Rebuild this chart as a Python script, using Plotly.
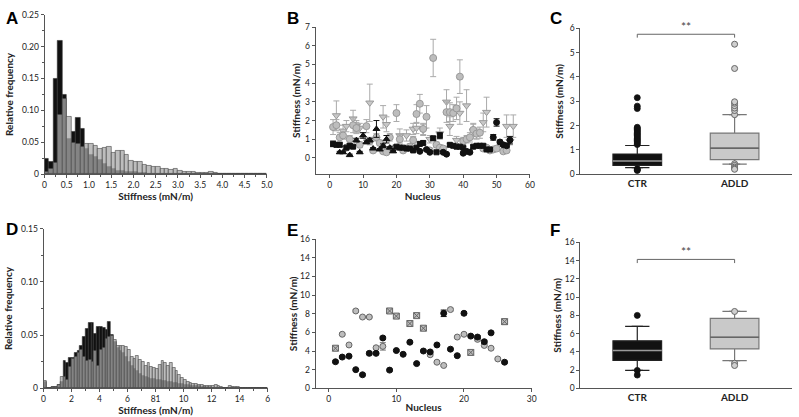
import numpy as np
import plotly.graph_objects as go

W, H = 799, 417

# ---------------- Panel A : histogram (bin width 0.1 mN/m) ----------------
a_bin_width = 0.1
a_ctr = [0.024, 0.020, 0.150, 0.210, 0.124, 0.055, 0.067, 0.089, 0.071, 0.040,
         0.031, 0.027, 0.023, 0.016, 0.011, 0.008, 0.006, 0.005, 0.004, 0.003,
         0.003, 0.002, 0.002, 0.001, 0.001, 0.001, 0.001, 0.001, 0.001, 0.001,
         0.0005, 0.0005, 0, 0, 0, 0, 0, 0, 0, 0,
         0, 0, 0, 0, 0, 0, 0, 0, 0, 0]
a_adld = [0.003, 0.008, 0.018, 0.093, 0.118, 0.090, 0.049, 0.047, 0.043, 0.048,
          0.047, 0.044, 0.040, 0.042, 0.043, 0.033, 0.036, 0.037, 0.030, 0.021,
          0.019, 0.019, 0.015, 0.013, 0.011, 0.011, 0.009, 0.008, 0.007, 0.009,
          0.005, 0.004, 0.003, 0.003, 0.002, 0.002, 0.002, 0.004, 0.002, 0.001,
          0.001, 0.001, 0.0005, 0.001, 0.001, 0.0005, 0.001, 0.001, 0.0005, 0.001]
a_xticks = [0, 0.5, 1.0, 1.5, 2.0, 2.5, 3.0, 3.5, 4.0, 4.5, 5.0]
a_xticktext = ["0", "0.5", "1.0", "1.5", "2.0", "2.5", "3.0", "3.5", "4.0", "4.5", "5.0"]
a_yticks = [0, 0.05, 0.10, 0.15, 0.20, 0.25]
a_yticktext = ["0", "0.05", "0.10", "0.15", "0.20", "0.25"]

# ---------------- Panel D : histogram (bin width 0.2 mN/m) ----------------
d_bin_width = 0.2
d_ctr = [0.006, 0, 0, 0.001, 0.001, 0.003, 0.006, 0.026, 0.024, 0.029,
         0.029, 0.033, 0.035, 0.040, 0.048, 0.056, 0.062, 0.062, 0.051, 0.058,
         0.058, 0.057, 0.055, 0.063, 0.050, 0.044, 0.038, 0.035, 0.033, 0.030,
         0.025, 0.021, 0.018, 0.016, 0.014, 0.012, 0.011, 0.010, 0.009, 0.009,
         0.008, 0.008, 0.007, 0.007, 0.006, 0.006, 0.005, 0.005, 0.004, 0.004,
         0.003, 0.003, 0.002, 0.002, 0.002, 0.002, 0.001, 0.001, 0.001, 0.001,
         0.0005, 0.0005, 0.0005, 0.0005, 0, 0, 0, 0, 0, 0,
         0, 0, 0, 0, 0, 0, 0, 0, 0, 0]
d_adld = [0.007, 0, 0, 0.001, 0.001, 0.003, 0.011, 0.011, 0.008, 0.020,
          0.028, 0.030, 0.033, 0.036, 0.030, 0.026, 0.027, 0.025, 0.035, 0.021,
          0.036, 0.038, 0.047, 0.048, 0.049, 0.046, 0.040, 0.040, 0.040, 0.039,
          0.036, 0.030, 0.028, 0.031, 0.027, 0.025, 0.021, 0.024, 0.020, 0.019,
          0.018, 0.022, 0.026, 0.024, 0.021, 0.024, 0.019, 0.016, 0.013, 0.010,
          0.008, 0.006, 0.005, 0.004, 0.004, 0.003, 0.003, 0.002, 0.002, 0.002,
          0.002, 0.003, 0.002, 0.001, 0.0005, 0.0005, 0.002, 0.0015, 0.001, 0.001,
          0.0005, 0.0005, 0.0005, 0.0005, 0.0005, 0.0005, 0.0005, 0.0005, 0.0005, 0.0005]
d_xticks = [0, 2, 4, 6, 8, 10, 12, 14, 16]
d_xticktext = ["0", "2", "4", "6", "81", "10", "12", "14", "6"]
d_yticks = [0, 0.05, 0.10, 0.15]
d_yticktext = ["0", "0.05", "0.10", "0.15"]

# ---------------- Panel B : per-nucleus stiffness (mean ± sd) ----------------
b_adld_circ_x = [1, 2, 3, 4, 5, 6, 7, 8, 9, 11, 12, 13, 14, 15, 16, 17, 18, 19, 20,
                 21, 22, 24, 25, 26, 27, 28, 29, 30, 31, 32, 33, 34, 35, 36, 37, 38,
                 39, 40, 41, 42, 43, 44, 45, 46, 47, 48, 49, 50, 52, 53]
b_adld_circ_y = [1.65, 1.75, 1.1, 1.2, 0.55, 1.0, 1.75, 1.6, 0.7, 1.7, 0.9, 0.4, 1.1,
                 0.8, 0.35, 0.3, 1.1, 0.5, 2.4, 1.0, 0.4, 0.6, 0.95, 2.35, 2.9, 1.55,
                 2.2, 0.4, 5.35, 0.7, 0.55, 0.5, 2.45, 2.45, 2.4, 2.65, 4.35, 0.9,
                 1.0, 1.1, 1.5, 1.3, 1.35, 0.5, 0.55, 0.4, 0.45, 0.5, 0.35, 0.4]
b_adld_circ_err = [0.4, 0.3, 0.25, 0.2, 0.1, 0.2, 0.4, 0.3, 0.15, 0.35, 0.2, 0.1, 0.2,
                   0.15, 0.1, 0.1, 0.2, 0.1, 0.45, 0.25, 0.1, 0.15, 0.2, 0.5, 0.5, 0.3,
                   0.6, 0.1, 1.0, 0.15, 0.15, 0.1, 0.55, 0.5, 0.45, 0.6, 0.9, 0.2,
                   0.2, 0.25, 0.3, 0.3, 0.3, 0.1, 0.1, 0.1, 0.1, 0.1, 0.05, 0.1]
b_adld_tri_x = [2, 4, 5, 7, 8, 9, 12, 16, 17, 21, 23, 25, 26, 28, 30, 33, 35, 36, 38,
                39, 41, 43, 46, 47, 53, 54, 55]
b_adld_tri_y = [2.27, 1.45, 1.7, 2.1, 1.7, 1.6, 2.95, 2.2, 1.8, 1.2, 1.2, 1.55, 1.6,
                1.5, 1.0, 1.3, 3.0, 1.7, 0.95, 2.4, 2.8, 1.45, 1.9, 2.45, 1.7, 0.9, 1.7]
b_adld_tri_err = [0.78, 0.3, 0.3, 0.45, 0.3, 0.25, 1.0, 0.6, 0.4, 0.35, 0.3, 0.3, 0.3,
                  0.3, 0.2, 0.3, 0.65, 0.5, 0.2, 0.6, 0.85, 0.4, 0.5, 0.8, 0.6, 0.2, 0.6]
b_ctr_tri_x = [3, 4, 6, 8, 9, 10, 11, 12, 13, 14, 15, 16, 17, 18, 19]
b_ctr_tri_y = [0.3, 0.3, 0.15, 0.95, 0.3, 1.2, 0.85, 0.95, 0.5, 1.55, 0.45, 0.65, 1.0, 0.55, 0.35]
b_ctr_tri_err = [0.05, 0.05, 0.05, 0.1, 0.05, 0.15, 0.1, 0.1, 0.05, 0.45, 0.05, 0.1, 0.2, 0.05, 0.05]
b_ctr_sq_x = [1, 2, 3, 5, 6, 7, 20, 21, 22, 23, 24, 25, 26, 27, 28, 31, 32, 33, 36, 37,
              38, 39, 40, 43, 44, 45, 46, 47, 48]
b_ctr_sq_y = [0.75, 0.7, 0.7, 0.55, 0.65, 0.6, 0.6, 0.55, 0.55, 0.5, 0.5, 0.4, 0.55,
              0.75, 0.8, 1.05, 0.3, 1.2, 0.7, 0.65, 0.6, 0.6, 0.55, 0.6, 0.65, 0.65,
              0.65, 0.45, 0.45]
b_ctr_sq_err = [0.15, 0.1, 0.1, 0.08, 0.1, 0.08, 0.08, 0.08, 0.06, 0.06, 0.06, 0.06,
                0.08, 0.1, 0.1, 0.1, 0.05, 0.15, 0.08, 0.08, 0.06, 0.06, 0.06, 0.08,
                0.08, 0.08, 0.08, 0.05, 0.05]
b_ctr_circ_x = [27, 29, 30, 34, 35, 40, 41, 42, 49, 50, 51, 52, 53, 54]
b_ctr_circ_y = [0.35, 0.45, 0.3, 0.3, 0.2, 0.25, 0.35, 0.3, 1.1, 1.9, 0.85, 0.7, 0.65, 0.95]
b_ctr_circ_err = [0.05, 0.05, 0.05, 0.05, 0.05, 0.05, 0.05, 0.05, 0.15, 0.2, 0.1, 0.08, 0.08, 0.2]

# ---------------- Panel E : per-nucleus stiffness ----------------
e_ctr_x = [1, 2, 3, 4, 5, 6, 7, 8, 9, 10, 11, 12, 13, 14, 15, 16, 17, 18, 19, 20, 21, 22, 23, 24, 26]
e_ctr_y = [2.85, 3.35, 3.45, 2.0, 1.45, 3.75, 3.75, 5.4, 1.95, 4.05, 3.65, 4.95, 2.65,
           4.0, 3.9, 4.65, 8.05, 4.2, 3.5, 8.05, 5.6, 5.5, 5.0, 5.95, 2.8]
e_ctr_err = [0.1, 0.1, 0.1, 0.1, 0.1, 0.15, 0.1, 0.15, 0.1, 0.1, 0.1, 0.1, 0.1, 0.1,
             0.1, 0.1, 0.35, 0.1, 0.1, 0.15, 0.1, 0.15, 0.15, 0.15, 0.1]
e_adld_circ_x = [2, 3, 4, 5, 6, 7, 8, 15, 16, 17, 18, 19, 20, 22, 23, 24, 25]
e_adld_circ_y = [5.8, 4.65, 8.3, 7.65, 7.65, 4.35, 4.5, 3.6, 2.8, 2.45, 8.45, 5.5, 5.8,
                 5.25, 4.6, 4.3, 3.15]
e_adld_circ_err = [0.1, 0.15, 0.15, 0.1, 0.1, 0.15, 0.4, 0.15, 0.1, 0.1, 0.15, 0.1, 0.1,
                   0.15, 0.15, 0.15, 0.1]
e_adld_sq_x = [1, 9, 10, 12, 13, 14, 21, 26]
e_adld_sq_y = [4.3, 8.3, 7.75, 6.95, 7.8, 6.45, 3.85, 7.15]
e_adld_sq_err = [0.2, 0.2, 0.15, 0.15, 0.15, 0.15, 0.15, 0.3]

# ---------------- Panels C and F : box plots ----------------
groups = ["CTR", "ADLD"]
group_pos = [0, 1]
# C
c_q1 = [0.36, 0.60]
c_med = [0.54, 1.07]
c_q3 = [0.83, 1.69]
c_lo = [0.27, 0.41]
c_hi = [1.18, 2.45]
c_ctr_out = [1.22, 1.28, 1.33, 1.38, 1.43, 1.48, 1.53, 1.58, 1.63, 1.68, 1.73, 1.78,
             1.83, 1.88, 1.93, 2.70, 2.80, 3.15, 0.22, 0.18, 0.15]
c_adld_out = [2.45, 2.62, 2.72, 2.82, 2.92, 2.98, 4.35, 5.35, 0.43, 0.36, 0.29, 0.24, 0.20]
c_sig_y, c_sig_drop = 5.76, 0.14
# F
f_q1 = [3.07, 4.32]
f_med = [4.14, 5.60]
f_q3 = [5.21, 7.68]
f_lo = [1.96, 3.04]
f_hi = [6.79, 8.43]
f_ctr_out = [8.0, 1.96, 1.45]
f_adld_out = [8.43, 2.75, 2.5]
f_sig_y, f_sig_drop = 14.14, 0.4

# ---------------- styling ----------------
FONT = "Lato, 'Open Sans', sans-serif"
TICKC = "#222"
AXC = "#555"
BLACK = "#111111"
GRAYF = "rgba(168,168,168,0.76)"

fig = go.Figure()

# Histograms
for ax, bw, ctr, adld in [("", a_bin_width, a_ctr, a_adld), ("4", d_bin_width, d_ctr, d_adld)]:
    bins = np.round(np.arange(len(ctr)) * bw, 3)
    fig.add_trace(go.Bar(x=bins, y=ctr, width=bw, offset=0, name="CTR",
                         marker=dict(color=BLACK, line=dict(color="#333", width=0.6)),
                         xaxis="x" + ax, yaxis="y" + ax, showlegend=False))
    fig.add_trace(go.Bar(x=bins, y=adld, width=bw, offset=0, name="ADLD",
                         marker=dict(color=GRAYF, line=dict(color="#444", width=0.6)),
                         xaxis="x" + ax, yaxis="y" + ax, showlegend=False))


def pts(x, y, err, ax, symbol, fill, edge, ecol, size):
    fig.add_trace(go.Scatter(
        x=x, y=y, mode="markers", xaxis="x" + ax, yaxis="y" + ax, showlegend=False,
        marker=dict(symbol=symbol, size=size, color=fill, line=dict(color=edge, width=1)),
        error_y=dict(type="data", array=err, visible=True, color=ecol, thickness=1, width=3)))


# Panel B
pts(b_adld_tri_x, b_adld_tri_y, b_adld_tri_err, "2", "triangle-down", "#c8c8c8", "#9a9a9a", "#aaaaaa", 7)
pts(b_adld_circ_x, b_adld_circ_y, b_adld_circ_err, "2", "circle", "#bdbdbd", "#999999", "#aaaaaa", 7)
pts(b_ctr_sq_x, b_ctr_sq_y, b_ctr_sq_err, "2", "square", BLACK, BLACK, BLACK, 5)
pts(b_ctr_tri_x, b_ctr_tri_y, b_ctr_tri_err, "2", "triangle-up", BLACK, BLACK, BLACK, 6)
pts(b_ctr_circ_x, b_ctr_circ_y, b_ctr_circ_err, "2", "circle", BLACK, BLACK, BLACK, 6)

# Panel E
pts(e_adld_circ_x, e_adld_circ_y, e_adld_circ_err, "5", "circle", "#bdbdbd", "#666666", "#777777", 6)
pts(e_adld_sq_x, e_adld_sq_y, e_adld_sq_err, "5", "square-x", "#bdbdbd", "#666666", "#777777", 6)
pts(e_ctr_x, e_ctr_y, e_ctr_err, "5", "circle", BLACK, BLACK, BLACK, 6)

BOX_W = 0.5           # box width in axis units
BOX_PX = 49           # same width in pixels (axis spans ~98 px per unit)


# Box plots
def boxes(ax, q1, med, q3, lo, hi, ctr_out, adld_out, sig_y, sig_drop):
    styles = [dict(fill=BLACK, whisk="#222", med="#9a9a9a"),
              dict(fill="#c9c9c9", whisk="#777", med="#666")]
    for i, st in enumerate(styles):
        fig.add_trace(go.Box(x=[group_pos[i]], q1=[q1[i]], median=[med[i]], q3=[q3[i]],
                             lowerfence=[lo[i]], upperfence=[hi[i]], width=BOX_W,
                             fillcolor=st["fill"], line=dict(color=st["whisk"], width=1.2),
                             boxpoints=False, name=groups[i], showlegend=False,
                             xaxis="x" + ax, yaxis="y" + ax))
        # whisker caps
        fig.add_trace(go.Scatter(x=[group_pos[i]] * 2, y=[lo[i], hi[i]], mode="markers",
                                 marker=dict(symbol="line-ew", size=8,
                                             line=dict(color=st["whisk"], width=1.2)),
                                 showlegend=False, hoverinfo="skip", xaxis="x" + ax, yaxis="y" + ax))
        # median line
        fig.add_trace(go.Scatter(x=[group_pos[i]], y=[med[i]], mode="markers",
                                 marker=dict(symbol="line-ew", size=BOX_PX / 1.4,
                                             line=dict(color=st["med"], width=1.5)),
                                 showlegend=False, hoverinfo="skip", xaxis="x" + ax, yaxis="y" + ax))
    fig.add_trace(go.Scatter(x=[group_pos[0]] * len(ctr_out), y=ctr_out, mode="markers",
                             marker=dict(symbol="circle", size=6, color=BLACK, line=dict(color=BLACK, width=0.8)),
                             showlegend=False, xaxis="x" + ax, yaxis="y" + ax))
    fig.add_trace(go.Scatter(x=[group_pos[1]] * len(adld_out), y=adld_out, mode="markers",
                             marker=dict(symbol="circle", size=6, color="#cfcfcf", line=dict(color="#666", width=1)),
                             showlegend=False, xaxis="x" + ax, yaxis="y" + ax))
    # significance bracket
    fig.add_trace(go.Scatter(x=[group_pos[0], group_pos[0], group_pos[1], group_pos[1]],
                             y=[sig_y - sig_drop, sig_y, sig_y, sig_y - sig_drop], mode="lines",
                             line=dict(color="#666", width=1), showlegend=False, hoverinfo="skip",
                             xaxis="x" + ax, yaxis="y" + ax))
    fig.add_annotation(x=(group_pos[0] + group_pos[1]) / 2, y=sig_y, text="**", showarrow=False,
                       xref="x" + ax, yref="y" + ax, yanchor="bottom", yshift=-2,
                       font=dict(size=12, color="#444", family=FONT))


boxes("3", c_q1, c_med, c_q3, c_lo, c_hi, c_ctr_out, c_adld_out, c_sig_y, c_sig_drop)
boxes("6", f_q1, f_med, f_q3, f_lo, f_hi, f_ctr_out, f_adld_out, f_sig_y, f_sig_drop)


def px_x(a, b):
    return [a / W, b / W]


def px_y(top, bottom):
    return [1 - bottom / H, 1 - top / H]


def axis(domain, rng, title=None, standoff=None, **kw):
    d = dict(domain=domain, range=rng, showline=True, linecolor=AXC, linewidth=1,
             ticks="outside", ticklen=3, tickcolor=AXC, showgrid=False, zeroline=False,
             tickfont=dict(size=8.5, color=TICKC, family=FONT), fixedrange=True)
    if title:
        d["title"] = dict(text="<b>" + title + "</b>", font=dict(size=10, color="#222", family=FONT))
        if standoff is not None:
            d["title"]["standoff"] = standoff
    d.update(kw)
    return d


top_y = px_y(10, 173.3)
bot_y = px_y(229.3, 392.7)
minor = lambda dt: dict(ticks="outside", ticklen=2, dtick=dt, tickcolor=AXC)

fig.update_layout(
    width=W, height=H, margin=dict(l=0, r=0, t=0, b=0),
    paper_bgcolor="white", plot_bgcolor="white",
    barmode="overlay", boxmode="overlay", bargap=0,
    font=dict(family=FONT, color=TICKC),
    # A
    xaxis=axis(px_x(43, 267.5), [0, 5.0], "Stiffness (mN/m)", 0, anchor="y",
               tickvals=a_xticks, ticktext=a_xticktext, minor=minor(0.25)),
    yaxis=axis(top_y, [0, 0.25], "Relative frequency", 6, anchor="x",
               tickvals=a_yticks, ticktext=a_yticktext, minor=minor(0.025)),
    # B
    xaxis2=axis(px_x(316.7, 533.3), [-4.25, 60], "Nucleus", 0, anchor="y2", dtick=10, tick0=0),
    yaxis2=axis(px_y(22.7, 173.3), [-0.87, 7], "Stiffness (mN/m)", 2, anchor="x2",
                tickvals=[0, 1, 2, 3, 4, 5, 6, 7]),
    # C
    xaxis3=axis(px_x(584.3, 798), [-0.584, 1.59], None, anchor="y3",
                tickvals=group_pos, ticktext=["<b>" + g + "</b>" for g in groups],
                ticks="", tickfont=dict(size=10, color="#222", family=FONT)),
    yaxis3=axis(px_y(24, 173.3), [0, 6], "Stiffness (mN/m)", 4, anchor="x3", dtick=1),
    # D
    xaxis4=axis(px_x(42, 268.3), [0, 16], "Stiffness (mN/m)", 0, anchor="y4",
                tickvals=d_xticks, ticktext=d_xticktext, minor=minor(1)),
    yaxis4=axis(bot_y, [0, 0.15], "Relative frequency", 6, anchor="x4",
                tickvals=d_yticks, ticktext=d_yticktext, minor=minor(0.025)),
    # E
    xaxis5=axis(px_x(316.7, 535), [-1.95, 30], "Nucleus", 0, anchor="y5", dtick=10, tick0=0),
    yaxis5=axis(px_y(240, 392.7), [0, 16], "Stiffness (mN/m)", 0, anchor="x5", dtick=2),
    # F
    xaxis6=axis(px_x(584.3, 798), [-0.584, 1.59], None, anchor="y6",
                tickvals=group_pos, ticktext=["<b>" + g + "</b>" for g in groups],
                ticks="", tickfont=dict(size=10, color="#222", family=FONT)),
    yaxis6=axis(px_y(243.3, 392.7), [0, 16], "Stiffness (mN/m)", 1, anchor="x6", dtick=2),
)

# Panel letters
for letter, px, py in [("A", 2, 2), ("B", 286, 2), ("C", 552, 2),
                       ("D", 2, 218), ("E", 286, 219), ("F", 552, 219)]:
    fig.add_annotation(x=px / W, y=1 - py / H, xref="paper", yref="paper", text="<b>" + letter + "</b>",
                       showarrow=False, xanchor="left", yanchor="top",
                       font=dict(size=17, color="#000", family="Liberation Sans, Arial, sans-serif"))

fig.write_html("out.html", config={"displayModeBar": False},
               post_script="document.body.style.margin='0';document.body.style.padding='0';"
                           "document.body.style.overflow='hidden';")
